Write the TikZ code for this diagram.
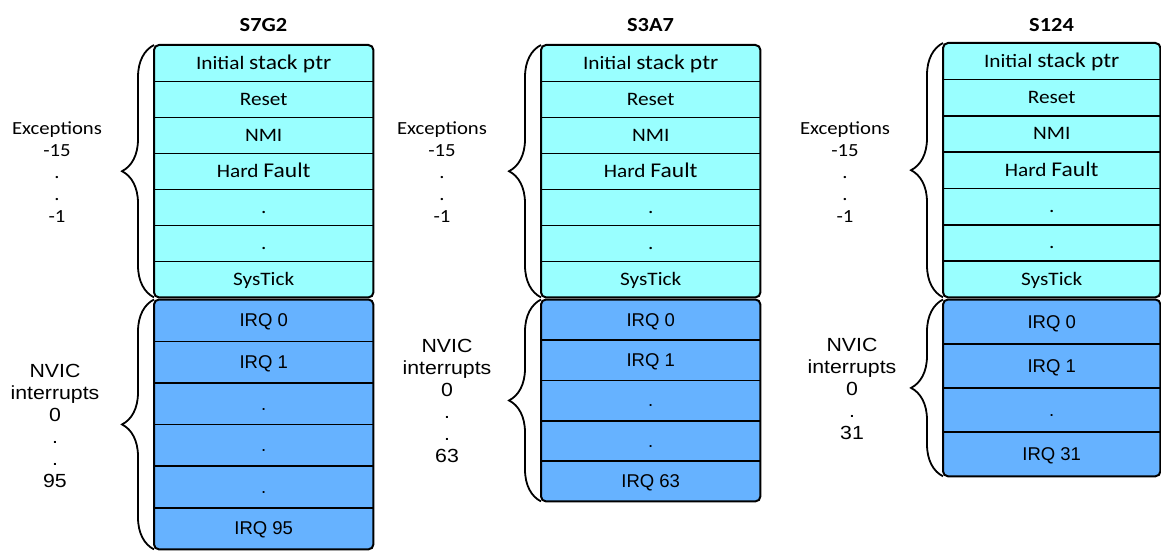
\documentclass[tikz,border=0pt]{standalone}
\usepackage{fontspec}
\setmainfont{Carlito}[FakeStretch=1.12]
\newfontfamily\arialf{Liberation Sans}
\newfontfamily\arialw{Liberation Sans}[FakeStretch=1.12]
\usetikzlibrary{decorations.pathreplacing,backgrounds}
\definecolor{exfill}{RGB}{153,255,255}
\definecolor{irqfill}{RGB}{102,178,255}
\newcommand\bgr[1]{{\fontsize{21}{22}\selectfont #1}}
\begin{document}
\begin{tikzpicture}[x=1pt,y=-1pt,
  cell/.style={inner sep=0pt, anchor=north west, text depth=0pt},
  excell/.style={cell, font=\fontsize{19}{22}\selectfont, text height=12pt},
  irqcell/.style={cell, font=\arialf\fontsize{18.5}{22}\selectfont, text height=13pt},
  divider/.style={line width=1.6pt},
  outerbox/.style={line width=2pt, rounded corners=5pt},
  bracestyle/.style={decorate, decoration={brace, amplitude=32pt}, line width=1.8pt},
  exlabel/.style={align=center, inner sep=0pt, font=\fontsize{18.5}{22}\selectfont},
  nvlabel/.style={align=center, inner sep=0pt, font=\arialw\fontsize{19}{22}\selectfont},
  title/.style={font=\bfseries\fontsize{20}{22}\selectfont, inner sep=0pt}
]
\useasboundingbox (0,0) rectangle (1161,551);

% ---------- Column 1: S7G2 ----------
\node[title] (aT) at (263.5,25) {S7G2};
\foreach [count=\i] \t in {{Initial \bgr{stack ptr}}, Reset, NMI, {Hard \bgr{Fault}}, ., ., SysTick}
  \node[excell, minimum width=219pt, minimum height=36pt] (aE\i) at (154,{45+(\i-1)*36}) {\t};
\foreach [count=\i] \t in {IRQ 0, IRQ 1, ., ., ., IRQ 95}
  \node[irqcell, minimum width=219pt, minimum height=41.58pt] (aI\i) at (154,{299.5+(\i-1)*41.58}) {\t};
\begin{scope}[on background layer]
  \fill[exfill, rounded corners=5pt] (aE1.north west) rectangle (aE7.south east);
  \fill[irqfill, rounded corners=5pt] (aI1.north west) rectangle (aI6.south east);
\end{scope}
\foreach \i in {1,...,6} \draw[divider] (aE\i.south west) -- (aE\i.south east);
\foreach \i in {1,...,5} \draw[divider] (aI\i.south west) -- (aI\i.south east);
\draw[outerbox] (aE1.north west) rectangle (aE7.south east);
\draw[outerbox] (aI1.north west) rectangle (aI6.south east);
\draw[bracestyle] (aE7.south west) -- (aE1.north west);
\draw[bracestyle] (aI6.south west) -- (aI1.north west);
\node[exlabel] (aX) at (57,172) {Exceptions\\-15\\.\\.\\-1};
\node[nvlabel] (aN) at (55,426) {NVIC\\interrupts\\0\\.\\.\\95};

% ---------- Column 2: S3A7 ----------
\node[title] (bT) at (650.5,25) {S3A7};
\foreach [count=\i] \t in {{Initial \bgr{stack ptr}}, Reset, NMI, {Hard \bgr{Fault}}, ., ., SysTick}
  \node[excell, minimum width=219pt, minimum height=36pt] (bE\i) at (541,{45+(\i-1)*36}) {\t};
\foreach [count=\i] \t in {IRQ 0, IRQ 1, ., ., IRQ 63}
  \node[irqcell, minimum width=219pt, minimum height=40.3pt] (bI\i) at (541,{299.5+(\i-1)*40.3}) {\t};
\begin{scope}[on background layer]
  \fill[exfill, rounded corners=5pt] (bE1.north west) rectangle (bE7.south east);
  \fill[irqfill, rounded corners=5pt] (bI1.north west) rectangle (bI5.south east);
\end{scope}
\foreach \i in {1,...,6} \draw[divider] (bE\i.south west) -- (bE\i.south east);
\foreach \i in {1,...,4} \draw[divider] (bI\i.south west) -- (bI\i.south east);
\draw[outerbox] (bE1.north west) rectangle (bE7.south east);
\draw[outerbox] (bI1.north west) rectangle (bI5.south east);
\draw[bracestyle] (bE7.south west) -- (bE1.north west);
\draw[bracestyle] (bI5.south west) -- (bI1.north west);
\node[exlabel] (bX) at (442,172) {Exceptions\\-15\\.\\.\\-1};
\node[nvlabel] (bN) at (447,401) {NVIC\\interrupts\\0\\.\\.\\63};

% ---------- Column 3: S124 ----------
\node[title] (cT) at (1051.5,25) {S124};
\foreach [count=\i] \t in {{Initial \bgr{stack ptr}}, Reset, NMI, {Hard \bgr{Fault}}, ., ., SysTick}
  \node[excell, minimum width=217pt, minimum height=36.28pt] (cE\i) at (943,{43+(\i-1)*36.28}) {\t};
\foreach [count=\i] \t in {IRQ 0, IRQ 1, ., IRQ 31}
  \node[irqcell, minimum width=217pt, minimum height=44.1pt] (cI\i) at (943,{299.5+(\i-1)*44.1}) {\t};
\begin{scope}[on background layer]
  \fill[exfill, rounded corners=5pt] (cE1.north west) rectangle (cE7.south east);
  \fill[irqfill, rounded corners=5pt] (cI1.north west) rectangle (cI4.south east);
\end{scope}
\foreach \i in {1,...,6} \draw[divider] (cE\i.south west) -- (cE\i.south east);
\foreach \i in {1,...,3} \draw[divider] (cI\i.south west) -- (cI\i.south east);
\draw[outerbox] (cE1.north west) rectangle (cE7.south east);
\draw[outerbox] (cI1.north west) rectangle (cI4.south east);
\draw[bracestyle] (cE7.south west) -- (cE1.north west);
\draw[bracestyle] (cI4.south west) -- (cI1.north west);
\node[exlabel] (cX) at (845,172) {Exceptions\\-15\\.\\.\\-1};
\node[nvlabel] (cN) at (852,389) {NVIC\\interrupts\\0\\.\\31};
\end{tikzpicture}
\end{document}
